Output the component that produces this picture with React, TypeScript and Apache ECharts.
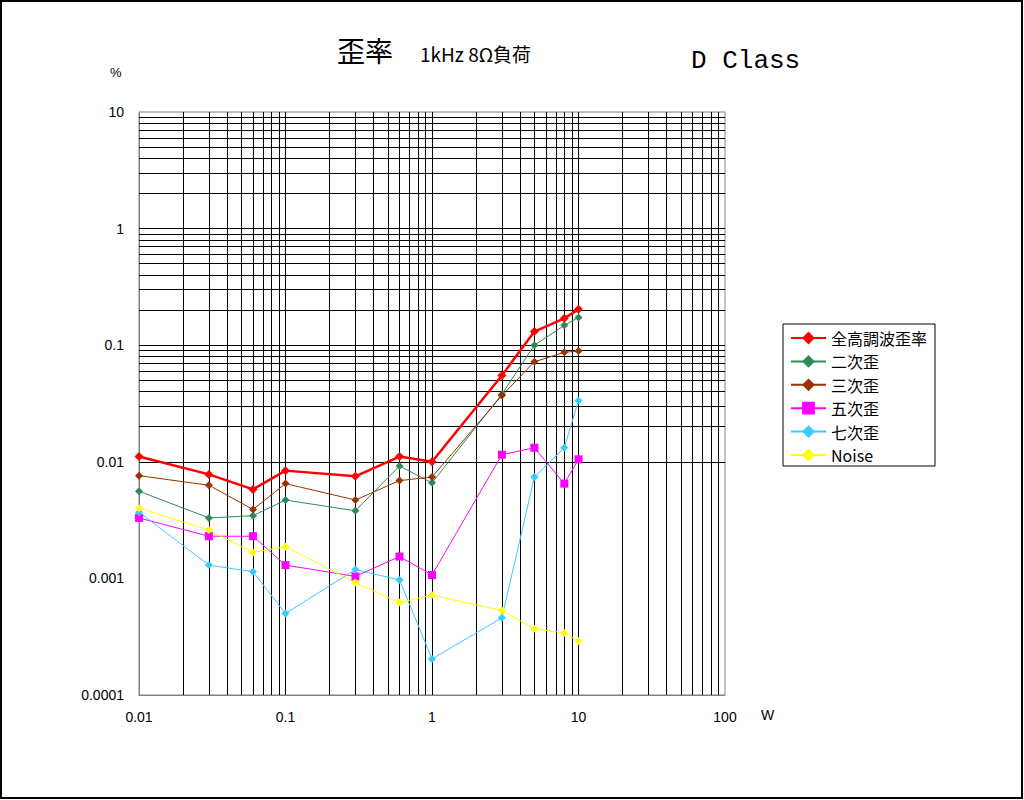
import React, { useEffect, useRef } from "react";
import * as echarts from "echarts";

// Output power (W) at each measuring point
const powerW = [0.01, 0.03, 0.06, 0.1, 0.3, 0.6, 1, 3, 5, 8, 10];

// Distortion (%)
const thdTotal = [0.0111, 0.0078, 0.0058, 0.0084, 0.0075, 0.0111, 0.01, 0.055, 0.131, 0.17, 0.203];
const h2nd = [0.0056, 0.0033, 0.00345, 0.0047, 0.0038, 0.0092, 0.0066, 0.038, 0.1, 0.148, 0.173];
const h3rd = [0.0076, 0.0063, 0.0039, 0.0065, 0.0047, 0.0069, 0.0074, 0.037, 0.072, 0.087, 0.089];
const h5th = [0.0033, 0.0023, 0.0023, 0.0013, 0.00104, 0.00154, 0.00107, 0.0115, 0.0132, 0.0065, 0.0105];
const h7th = [0.0037, 0.0013, 0.00114, 0.0005, 0.00119, 0.00097, 0.000204, 0.00046, 0.0074, 0.0132, 0.0336];
const noise = [0.004, 0.0026, 0.00167, 0.00187, 0.00092, 0.00062, 0.00072, 0.00053, 0.00037, 0.00034, 0.00029];

const seriesNames = ["全高調波歪率", "二次歪", "三次歪", "五次歪", "七次歪", "Noise"];

// Axis ticks
const xTicks = [0.01, 0.1, 1, 10, 100];
const xTickLabels = ["0.01", "0.1", "1", "10", "100"];
const yTicks = [0.0001, 0.001, 0.01, 0.1, 1, 10];
const yTickLabels = ["0.0001", "0.001", "0.01", "0.1", "1", "10"];

const MULTS = [1, 2, 3, 4, 5, 6, 7, 8, 9];
const LABEL_FONT = "'Liberation Sans', Arial, sans-serif";
const CJK_FONT = "'Noto Sans CJK JP', sans-serif";

// grid lines at 1..9 x each decade, leaving out the frame edges
function gridValues(decades: number[]): number[] {
  const out: number[] = [];
  decades.slice(0, -1).forEach((d) => {
    MULTS.forEach((m) => {
      const v = +(d * m).toPrecision(6);
      if (!(d === decades[0] && m === 1)) out.push(v);
    });
  });
  return out;
}

function tickLabel(ticks: number[], labels: string[], v: number): string {
  let best = 0;
  ticks.forEach((t, i) => {
    if (Math.abs(Math.log10(t) - Math.log10(v)) < Math.abs(Math.log10(ticks[best]) - Math.log10(v))) best = i;
  });
  return labels[best];
}

export default function App() {
  const chartRef = useRef<HTMLDivElement>(null);

  useEffect(() => {
    if (!chartRef.current) return;
    document.body.style.margin = "0";
    const chart = echarts.init(chartRef.current, undefined, { renderer: "svg" });

    const pairs = (ys: number[]) => powerW.map((x, i) => [x, ys[i]]);

    const lineSeries = (
      name: string,
      ys: number[],
      color: string,
      width: number,
      symbol: string,
      size: number
    ) => ({
      name,
      type: "line",
      z: 10,
      data: pairs(ys),
      symbol,
      symbolSize: size,
      showSymbol: true,
      lineStyle: { color, width },
      itemStyle: { color },
    });

    const gridLines = [
      ...gridValues(xTicks).map((v) => ({ xAxis: v })),
      ...gridValues(yTicks).map((v) => ({ yAxis: v })),
    ];

    const option = {
      animation: false,
      backgroundColor: "#ffffff",
      grid: {
        left: 139,
        top: 112,
        right: 299,
        bottom: 105,
        show: true,
        borderColor: "#808080",
        borderWidth: 1,
        backgroundColor: "#ffffff",
      },
      legend: {
        orient: "vertical",
        left: 783,
        top: 324,
        itemWidth: 35,
        itemHeight: 16,
        itemGap: 7.4,
        padding: [6, 8, 3, 7],
        borderColor: "#000",
        borderWidth: 1,
        backgroundColor: "#ffffff",
        textStyle: { fontSize: 16, fontFamily: CJK_FONT, color: "#000" },
        data: seriesNames,
      },
      xAxis: {
        type: "log",
        logBase: 10,
        min: 0.01,
        max: 100,
        axisLine: { show: true, lineStyle: { color: "#808080", width: 1 } },
        axisTick: { show: false },
        splitLine: { show: false },
        axisLabel: {
          margin: 15,
          fontSize: 14,
          fontFamily: LABEL_FONT,
          color: "#000",
          formatter: (v: number) => tickLabel(xTicks, xTickLabels, v),
        },
      },
      yAxis: {
        type: "log",
        logBase: 10,
        min: 0.0001,
        max: 10,
        axisLine: { show: true, lineStyle: { color: "#808080", width: 1 } },
        axisTick: { show: false },
        splitLine: { show: false },
        axisLabel: {
          margin: 15,
          fontSize: 14,
          fontFamily: LABEL_FONT,
          color: "#000",
          formatter: (v: number) => tickLabel(yTicks, yTickLabels, v),
        },
      },
      graphic: [
        {
          type: "rect",
          silent: true,
          shape: { x: 1, y: 1, width: 1021, height: 797 },
          style: { fill: "none", stroke: "#000", lineWidth: 2 },
        },
        {
          type: "text",
          left: 337,
          top: 36,
          style: { text: "歪率", font: `28px ${CJK_FONT}`, fill: "#000" },
        },
        {
          type: "text",
          left: 420,
          top: 44,
          style: { text: "1kHz 8Ω負荷", font: `19px ${CJK_FONT}`, fill: "#000" },
        },
        {
          type: "text",
          left: 691,
          top: 48,
          style: { text: "D Class", font: `26px 'Liberation Mono', monospace`, fill: "#000" },
        },
        {
          type: "text",
          left: 110,
          top: 66,
          style: { text: "%", font: `13px ${LABEL_FONT}`, fill: "#000" },
        },
        {
          type: "text",
          left: 761,
          top: 708,
          style: { text: "W", font: `14px ${LABEL_FONT}`, fill: "#000" },
        },
      ],
      series: [
        {
          name: "grid",
          type: "line",
          z: 1,
          data: [],
          silent: true,
          markLine: {
            silent: true,
            symbol: "none",
            animation: false,
            label: { show: false },
            lineStyle: { color: "#000", type: "solid", width: 1 },
            emphasis: { disabled: true },
            data: gridLines,
          },
        },
        lineSeries(seriesNames[1], h2nd, "#2e8b57", 1, "diamond", 8),
        lineSeries(seriesNames[2], h3rd, "#993300", 1, "diamond", 8),
        lineSeries(seriesNames[3], h5th, "#ff00ff", 1, "rect", 8),
        lineSeries(seriesNames[4], h7th, "#33ccff", 1, "diamond", 8),
        lineSeries(seriesNames[5], noise, "#ffff00", 1, "diamond", 8),
        lineSeries(seriesNames[0], thdTotal, "#ff0000", 2.5, "diamond", 9),
      ],
    };

    chart.setOption(option as any);

    return () => {
      chart.dispose();
    };
  }, []);

  return (
    <div style={{ position: "fixed", left: 0, top: 0, width: 1024, height: 800, background: "#fff" }}>
      <div ref={chartRef} style={{ width: 1024, height: 800 }} />
    </div>
  );
}
